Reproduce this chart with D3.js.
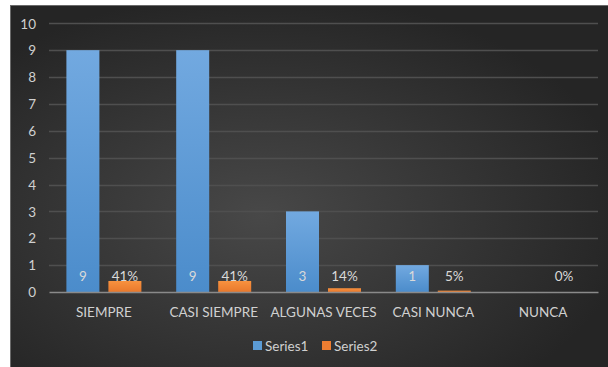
<!DOCTYPE html>
<html>
<head>
<meta charset="utf-8">
<script src="https://cdn.jsdelivr.net/npm/d3@7/dist/d3.min.js"></script>
<style>
  html, body { margin: 0; padding: 0; background: #ffffff; }
  svg { display: block; }
  text { font-family: Lato, "Open Sans", sans-serif; }
</style>
</head>
<body>
<svg id="chart" width="608" height="367"></svg>
<script>
// Survey answers and their counts / shares
const categories = ["SIEMPRE", "CASI SIEMPRE", "ALGUNAS VECES", "CASI NUNCA", "NUNCA"];
const series1 = [9, 9, 3, 1, 0];
const series2 = [0.41, 0.41, 0.14, 0.05, 0];
const series2Labels = ["41%", "41%", "14%", "5%", "0%"];
const seriesNames = ["Series1", "Series2"];
const yTicks = [0, 1, 2, 3, 4, 5, 6, 7, 8, 9, 10];

const svg = d3.select("#chart");
const W = 608, H = 367;
const FS = 13.5;

// Chart frame with a radial shading
const defs = svg.append("defs");
const bg = defs.append("radialGradient").attr("id", "bg")
  .attr("cx", "42%").attr("cy", "58%").attr("r", "62%");
bg.append("stop").attr("offset", "0%").attr("stop-color", "#484848");
bg.append("stop").attr("offset", "100%").attr("stop-color", "#252525");

const gBlue = defs.append("linearGradient").attr("id", "gBlue")
  .attr("x1", 0).attr("y1", 0).attr("x2", 0).attr("y2", 1);
gBlue.append("stop").attr("offset", "0%").attr("stop-color", "#72a9e0");
gBlue.append("stop").attr("offset", "100%").attr("stop-color", "#4b8ccb");

const gOrange = defs.append("linearGradient").attr("id", "gOrange")
  .attr("x1", 0).attr("y1", 0).attr("x2", 0).attr("y2", 1);
gOrange.append("stop").attr("offset", "0%").attr("stop-color", "#f8923f");
gOrange.append("stop").attr("offset", "100%").attr("stop-color", "#e8782c");

svg.append("rect")
  .attr("x", 10.5).attr("y", 5.5).attr("width", W - 10).attr("height", H - 5)
  .attr("fill", "url(#bg)").attr("stroke", "#6a6a6a").attr("stroke-width", 1);

const plot = { left: 49, right: 598, top: 23.3, bottom: 292 };

const y = d3.scaleLinear().domain([0, 10]).range([plot.bottom, plot.top]);
const x0 = d3.scaleBand().domain(categories).range([plot.left, plot.right]);
const bw = x0.bandwidth();
const groupW = 75;
const x1 = d3.scaleBand().domain(seriesNames)
  .range([(bw - groupW) / 2, (bw + groupW) / 2]).paddingInner(9 / 42);

// Gridlines
svg.append("g")
  .selectAll("line").data(yTicks.filter(t => t > 0)).join("line")
  .attr("x1", plot.left).attr("x2", plot.right)
  .attr("y1", d => Math.round(y(d)) + 0.5).attr("y2", d => Math.round(y(d)) + 0.5)
  .attr("stroke", "#4f4f4f").attr("stroke-width", 1.5);

// Y axis labels
const yAxis = d3.axisLeft(y).tickValues(yTicks).tickSize(0).tickPadding(0);
const ya = svg.append("g").attr("transform", "translate(36,0)").call(yAxis);
ya.select(".domain").remove();
ya.selectAll("text")
  .attr("fill", "#d0d0d0").attr("font-size", FS).attr("dy", "0.35em");

// Bars
const groups = svg.append("g").selectAll("g").data(categories).join("g")
  .attr("transform", d => `translate(${x0(d)},0)`);

groups.append("rect")
  .attr("x", x1("Series1")).attr("width", x1.bandwidth())
  .attr("y", (d, i) => y(series1[i]))
  .attr("height", (d, i) => y(0) - y(series1[i]))
  .attr("fill", "url(#gBlue)");

groups.append("rect")
  .attr("x", x1("Series2")).attr("width", x1.bandwidth())
  .attr("y", (d, i) => y(series2[i]))
  .attr("height", (d, i) => y(0) - y(series2[i]))
  .attr("fill", "url(#gOrange)");

// Category axis line
const xAxis = d3.axisBottom(x0).tickSize(0).tickPadding(0);
const xa = svg.append("g").attr("transform", `translate(0,${plot.bottom})`).call(xAxis);
xa.select(".domain").attr("stroke", "#8a8a8a").attr("stroke-width", 1.5);
xa.selectAll("text")
  .attr("fill", "#d0d0d0").attr("font-size", FS).attr("y", 25).attr("dy", 0);

// Data labels at the base of each bar
groups.append("text")
  .attr("x", x1("Series1") + x1.bandwidth() / 2)
  .attr("y", y(0) - 11)
  .attr("text-anchor", "middle").attr("font-size", FS).attr("fill", "#d9d9d9")
  .text((d, i) => series1[i] > 0 ? series1[i] : "");

groups.append("text")
  .attr("x", x1("Series2") + x1.bandwidth() / 2)
  .attr("y", y(0) - 11)
  .attr("text-anchor", "middle").attr("font-size", FS).attr("fill", "#d9d9d9")
  .text((d, i) => series2Labels[i]);

// Legend
const legend = svg.append("g");
const legendX = [253, 322];
const legendColors = ["#5b9bd5", "#ed7d31"];
seriesNames.forEach((s, i) => {
  legend.append("rect").attr("x", legendX[i]).attr("y", 341)
    .attr("width", 9).attr("height", 9).attr("fill", legendColors[i]);
  legend.append("text").attr("x", legendX[i] + 12).attr("y", 350.5)
    .attr("font-size", FS).attr("fill", "#d0d0d0").text(s);
});
</script>
</body>
</html>
